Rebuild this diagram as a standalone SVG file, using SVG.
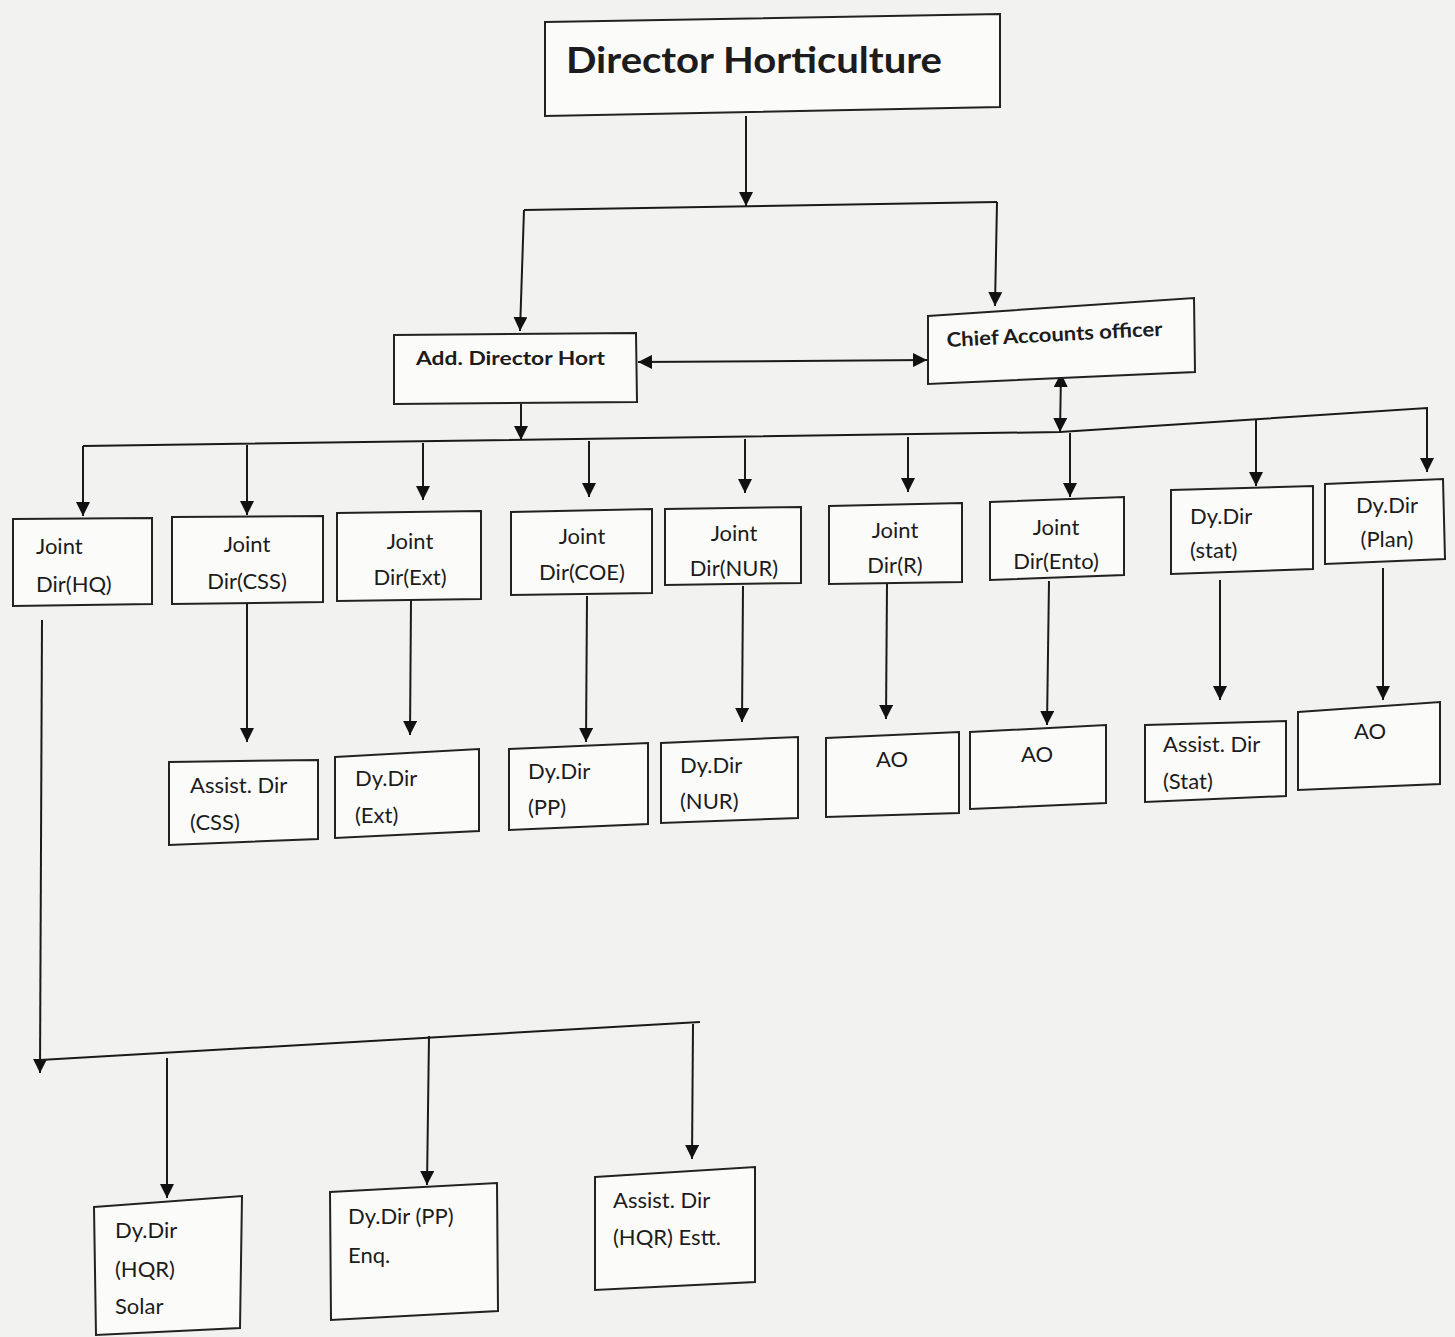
<svg xmlns="http://www.w3.org/2000/svg" width="1455" height="1337" viewBox="0 0 1455 1337">
<defs>
<marker id="ah" viewBox="0 0 10 10" refX="10" refY="5" markerWidth="14" markerHeight="14" markerUnits="userSpaceOnUse" orient="auto-start-reverse"><path d="M0,0 L10,5 L0,10 z" fill="#111"/></marker>
<style>
.bx{fill:#fbfbfa;stroke:#222;stroke-width:2}
.ln{fill:none;stroke:#1a1a1a;stroke-width:2}
.ar{fill:none;stroke:#1a1a1a;stroke-width:2;marker-end:url(#ah)}
.t{font-family:Lato,"Open Sans","Liberation Sans",sans-serif;font-size:22px;fill:#1c1c1c}
.c{text-anchor:middle}
.b{font-weight:bold}
</style>
</defs>
<rect width="1455" height="1337" fill="#f2f2f0"/>

<g id="connectors">
<line class="ar" x1="746" y1="116" x2="746" y2="206"/>
<polyline class="ln" points="524,210 997,202"/>
<line class="ar" x1="524" y1="210" x2="520" y2="331"/>
<line class="ar" x1="997" y1="202" x2="995" y2="306"/>
<line class="ar" x1="638" y1="362" x2="927" y2="360" style="marker-start:url(#ah)"/>
<line class="ar" x1="1061" y1="373" x2="1060" y2="432" style="marker-start:url(#ah)"/>
<line class="ar" x1="521" y1="404" x2="521" y2="440"/>
<polyline class="ln" points="83,446 1060,432 1427,408 1427,418"/>
<line class="ar" x1="83" y1="446" x2="83" y2="516"/>
<line class="ar" x1="247" y1="445" x2="247" y2="515"/>
<line class="ar" x1="423" y1="443" x2="423" y2="500"/>
<line class="ar" x1="589" y1="441" x2="589" y2="497"/>
<line class="ar" x1="745" y1="439" x2="745" y2="493"/>
<line class="ar" x1="908" y1="437" x2="908" y2="492"/>
<line class="ar" x1="1070" y1="433" x2="1070" y2="497"/>
<line class="ar" x1="1256" y1="420" x2="1256" y2="486"/>
<line class="ar" x1="1427" y1="408" x2="1427" y2="472"/>

<line class="ar" x1="247" y1="603" x2="247" y2="742"/>
<line class="ar" x1="411" y1="600" x2="410" y2="735"/>
<line class="ar" x1="587" y1="596" x2="586" y2="742"/>
<line class="ar" x1="743" y1="586" x2="742" y2="722"/>
<line class="ar" x1="887" y1="584" x2="886" y2="719"/>
<line class="ar" x1="1049" y1="581" x2="1047" y2="725"/>
<line class="ar" x1="1220" y1="580" x2="1220" y2="700"/>
<line class="ar" x1="1383" y1="568" x2="1383" y2="700"/>

<line class="ar" x1="42" y1="620" x2="40" y2="1073"/>
<polyline class="ln" points="40,1060 700,1022"/>
<line class="ar" x1="167" y1="1058" x2="167" y2="1198"/>
<line class="ar" x1="429" y1="1036" x2="427" y2="1185"/>
<line class="ar" x1="693" y1="1024" x2="692" y2="1159"/>
</g>

<g id="director">
<polygon class="bx" points="545,22 1000,14 1000,107 545,116"/>
<text class="t b c" x="754" y="73" style="font-size:37px" textLength="376" lengthAdjust="spacingAndGlyphs">Director Horticulture</text>
</g>
<g id="add-director">
<polygon class="bx" points="394,335 636,333 637,402 394,404"/>
<text class="t b" x="416" y="365" style="font-size:19px" textLength="189" lengthAdjust="spacingAndGlyphs">Add. Director Hort</text>
</g>
<g id="chief-accounts">
<polygon class="bx" points="928,316 1194,298 1195,372 928,384"/>
<text class="t b" x="947" y="347" style="font-size:20px" transform="rotate(-3 947 347)" textLength="216" lengthAdjust="spacingAndGlyphs">Chief Accounts officer</text>
</g>

<g id="jd-hq">
<polygon class="bx" points="13,519 152,518 152,604 13,606"/>
<text class="t" x="36" y="554">Joint</text><text class="t" x="36" y="592">Dir(HQ)</text>
</g>
<g id="jd-css">
<polygon class="bx" points="172,517 323,516 323,602 172,604"/>
<text class="t c" x="247" y="552">Joint</text><text class="t c" x="247" y="589">Dir(CSS)</text>
</g>
<g id="jd-ext">
<polygon class="bx" points="337,513 481,511 481,599 337,601"/>
<text class="t c" x="410" y="549">Joint</text><text class="t c" x="410" y="585">Dir(Ext)</text>
</g>
<g id="jd-coe">
<polygon class="bx" points="511,512 652,509 652,593 511,595"/>
<text class="t c" x="582" y="544">Joint</text><text class="t c" x="582" y="580">Dir(COE)</text>
</g>
<g id="jd-nur">
<polygon class="bx" points="665,509 801,507 801,583 665,585"/>
<text class="t c" x="734" y="541">Joint</text><text class="t c" x="734" y="576">Dir(NUR)</text>
</g>
<g id="jd-r">
<polygon class="bx" points="829,506 962,503 962,582 829,584"/>
<text class="t c" x="895" y="538">Joint</text><text class="t c" x="895" y="573">Dir(R)</text>
</g>
<g id="jd-ento">
<polygon class="bx" points="990,502 1124,497 1124,575 990,580"/>
<text class="t c" x="1056" y="535">Joint</text><text class="t c" x="1056" y="569">Dir(Ento)</text>
</g>
<g id="dd-stat">
<polygon class="bx" points="1171,490 1313,486 1313,569 1171,574"/>
<text class="t" x="1190" y="524">Dy.Dir</text><text class="t" x="1190" y="558">(stat)</text>
</g>
<g id="dd-plan">
<polygon class="bx" points="1325,484 1443,479 1445,559 1325,564"/>
<text class="t c" x="1387" y="513">Dy.Dir</text><text class="t c" x="1387" y="547">(Plan)</text>
</g>

<g id="ad-css">
<polygon class="bx" points="169,762 318,760 318,839 169,845"/>
<text class="t" x="190" y="793">Assist. Dir</text><text class="t" x="190" y="830">(CSS)</text>
</g>
<g id="dd-ext">
<polygon class="bx" points="335,757 479,749 479,831 335,838"/>
<text class="t" x="355" y="786">Dy.Dir</text><text class="t" x="355" y="823">(Ext)</text>
</g>
<g id="dd-pp">
<polygon class="bx" points="509,749 648,743 648,824 509,830"/>
<text class="t" x="528" y="779">Dy.Dir</text><text class="t" x="528" y="815">(PP)</text>
</g>
<g id="dd-nur">
<polygon class="bx" points="661,743 798,737 798,818 661,823"/>
<text class="t" x="680" y="773">Dy.Dir</text><text class="t" x="680" y="809">(NUR)</text>
</g>
<g id="ao-r">
<polygon class="bx" points="826,738 959,732 959,813 826,817"/>
<text class="t c" x="892" y="767">AO</text>
</g>
<g id="ao-ento">
<polygon class="bx" points="970,732 1106,725 1106,803 970,809"/>
<text class="t c" x="1037" y="762">AO</text>
</g>
<g id="ad-stat">
<polygon class="bx" points="1145,725 1286,721 1286,796 1145,802"/>
<text class="t" x="1163" y="752">Assist. Dir</text><text class="t" x="1163" y="789">(Stat)</text>
</g>
<g id="ao-plan">
<polygon class="bx" points="1298,712 1440,702 1440,784 1298,790"/>
<text class="t c" x="1370" y="739">AO</text>
</g>

<g id="dd-hqr-solar">
<polygon class="bx" points="94,1207 242,1196 240,1328 96,1335"/>
<text class="t" x="115" y="1238">Dy.Dir</text><text class="t" x="115" y="1277">(HQR)</text><text class="t" x="115" y="1314">Solar</text>
</g>
<g id="dd-pp-enq">
<polygon class="bx" points="330,1192 497,1183 498,1311 331,1320"/>
<text class="t" x="348" y="1224">Dy.Dir (PP)</text><text class="t" x="348" y="1263">Enq.</text>
</g>
<g id="ad-hqr-estt">
<polygon class="bx" points="595,1177 755,1167 755,1282 595,1290"/>
<text class="t" x="613" y="1208">Assist. Dir</text><text class="t" x="613" y="1245">(HQR) Estt.</text>
</g>
</svg>
